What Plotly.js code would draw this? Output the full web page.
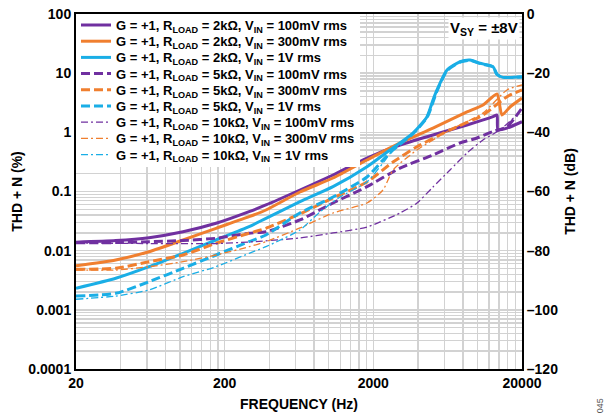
<!DOCTYPE html>
<html>
<head>
<meta charset="utf-8">
<script src="https://cdn.plot.ly/plotly-3.0.1.min.js"></script>
<style>html,body{margin:0;padding:0;background:#fff;}#chart{width:616px;height:419px;}</style>
</head>
<body>
<div id="chart"></div>
<script>
// Frequencies (Hz) and THD+N (%) values
const fP2k = [20, 37, 62, 105, 175, 292, 379, 642, 1071, 1813, 3023, 5038, 8532, 12760, 13574, 13786, 15850, 20000];
const vP2k = [0.0139, 0.0148, 0.0166, 0.0209, 0.029, 0.0456, 0.0592, 0.106, 0.19, 0.368, 0.611, 0.902, 1.33, 1.84, 1.96, 1.10, 1.18, 1.51];

const fO2k = [20, 37, 62, 105, 175, 292, 379, 642, 1071, 1813, 3023, 5038, 8532, 10930, 13574, 14670, 16606, 20000];
const vO2k = [0.00557, 0.00696, 0.00961, 0.01514, 0.02388, 0.0375, 0.0487, 0.0981, 0.169, 0.341, 0.661, 1.18, 2.21, 2.90, 4.45, 1.96, 2.68, 3.80];

const fB2k = [20, 37, 62, 105, 175, 292, 379, 642, 1071, 1813, 2588, 3698, 4592, 5038, 5362, 6262, 7657, 8936, 10434, 12760, 13574, 14900, 20000];
const vB2k = [0.00231, 0.00341, 0.00536, 0.00903, 0.01514, 0.0254, 0.0352, 0.0673, 0.1206, 0.262, 0.503, 0.975, 1.84, 3.52, 5.20, 11.3, 15.6, 16.7, 14.7, 12.9, 9.6, 8.5, 8.7];

const fP5k = [20, 37, 62, 105, 175, 292, 379, 642, 1071, 1813, 3023, 5038, 7657, 9960, 12760, 15850, 20000];
const vP5k = [0.0136, 0.0137, 0.0142, 0.0148, 0.0162, 0.0197, 0.0209, 0.033, 0.064, 0.1206, 0.249, 0.414, 0.661, 0.802, 1.03, 1.245, 2.58];

const fO5k = [20, 37, 62, 105, 175, 292, 379, 642, 1071, 1813, 2712, 3934, 6558, 10930, 15850, 20000];
const vO5k = [0.00484, 0.00504, 0.00651, 0.00845, 0.01333, 0.01968, 0.02388, 0.0417, 0.0777, 0.145, 0.315, 0.572, 1.10, 1.96, 4.0, 5.2];

const fB5k = [20, 37, 62, 105, 175, 292, 379, 642, 1071, 1813, 2322, 2712, 3698, 4592, 5362, 6262, 7657, 8936, 10434, 12760, 13574, 14900, 20000];
const vB5k = [0.00171, 0.0019, 0.00299, 0.00504, 0.00845, 0.01419, 0.0184, 0.0433, 0.0807, 0.176, 0.341, 0.503, 0.95, 1.78, 5.0, 11.0, 15.4, 16.5, 14.5, 12.8, 9.5, 8.5, 8.6];

const fP10k = [20, 62, 175, 292, 642, 1071, 1813, 3023, 3934, 5038, 6558, 8532, 10930, 14224, 20000];
const vP10k = [0.0135, 0.0132, 0.0132, 0.0140, 0.0164, 0.0199, 0.0251, 0.0433, 0.064, 0.119, 0.231, 0.448, 0.743, 1.10, 2.39];

const fO10k = [20, 37, 62, 105, 175, 292, 379, 642, 1071, 1813, 2322, 2712, 3934, 6558, 10930, 15850, 20000];
const vO10k = [0.00471, 0.00471, 0.00536, 0.00651, 0.00845, 0.01167, 0.01419, 0.0242, 0.0433, 0.064, 0.106, 0.231, 0.503, 1.10, 2.12, 5.2, 6.31];

const fB10k = [20, 37, 62, 105, 175, 292, 379, 642, 875, 1194, 1813, 2322, 2712, 3698, 4592, 5362, 6262, 7657, 8936, 10434, 12760, 13574, 14900, 20000];
const vB10k = [0.00151, 0.00171, 0.00217, 0.00363, 0.00536, 0.00903, 0.01167, 0.0224, 0.0451, 0.0807, 0.145, 0.303, 0.503, 0.96, 1.80, 5.1, 11.2, 15.5, 16.6, 14.6, 12.9, 9.5, 8.5, 8.7];

const seriesNames = [
  'G = +1, R<sub>LOAD</sub> = 2kΩ, V<sub>IN</sub> = 100mV rms',
  'G = +1, R<sub>LOAD</sub> = 2kΩ, V<sub>IN</sub> = 300mV rms',
  'G = +1, R<sub>LOAD</sub> = 2kΩ, V<sub>IN</sub> = 1V rms',
  'G = +1, R<sub>LOAD</sub> = 5kΩ, V<sub>IN</sub> = 100mV rms',
  'G = +1, R<sub>LOAD</sub> = 5kΩ, V<sub>IN</sub> = 300mV rms',
  'G = +1, R<sub>LOAD</sub> = 5kΩ, V<sub>IN</sub> = 1V rms',
  'G = +1, R<sub>LOAD</sub> = 10kΩ, V<sub>IN</sub> = 100mV rms',
  'G = +1, R<sub>LOAD</sub> = 10kΩ, V<sub>IN</sub> = 300mV rms',
  'G = +1, R<sub>LOAD</sub> = 10kΩ, V<sub>IN</sub> = 1V rms'
];

// Axis ticks
const xMajorTicks = [20, 200, 2000, 20000];
const xTickLabels = ['20', '200', '2000', '20000'];
const yMajorTicks = [0.0001, 0.001, 0.01, 0.1, 1, 10, 100];
const yTickLabels = ['0.0001', '0.001', '0.01', '0.1', '1', '10', '100'];
const dbTicks = [-120, -100, -80, -60, -40, -20, 0];
const dbTickLabels = ['–120', '–100', '–80', '–60', '–40', '–20', '0'];

const PURPLE = '#7030a0', ORANGE = '#f07f2f', BLUE = '#1aaee6';
const FONT = 'Arial, "Liberation Sans", sans-serif';

// grid positions: multiples within each "decade" starting at 20
const xGrid = [], xGridText = [];
xMajorTicks.forEach((m, i) => {
  if (i === xMajorTicks.length - 1) { xGrid.push(m); xGridText.push(xTickLabels[i]); return; }
  for (let k = 1; k <= 9; k++) { xGrid.push(m * k); xGridText.push(k === 1 ? xTickLabels[i] : ''); }
});
const yGrid = [], yGridText = [];
yMajorTicks.forEach((m, i) => {
  if (i === yMajorTicks.length - 1) { yGrid.push(m); yGridText.push(yTickLabels[i]); return; }
  for (let k = 1; k <= 9; k++) { yGrid.push(m * k); yGridText.push(k === 1 ? yTickLabels[i] : ''); }
});

function tr(f, v, name, color, dash, width) {
  return { x: f, y: v, name: name, type: 'scatter', mode: 'lines',
    line: { color: color, dash: dash, width: width, shape: 'spline', smoothing: 0.6 } };
}
const DASH = '9px,4px';
const DASHDOT = '7px,3px,2px,3px';
const data = [
  tr(fP2k, vP2k, seriesNames[0], PURPLE, 'solid', 3),
  tr(fO2k, vO2k, seriesNames[1], ORANGE, 'solid', 3),
  tr(fB2k, vB2k, seriesNames[2], BLUE, 'solid', 3),
  tr(fP5k, vP5k, seriesNames[3], PURPLE, DASH, 3),
  tr(fO5k, vO5k, seriesNames[4], ORANGE, DASH, 3),
  tr(fB5k, vB5k, seriesNames[5], BLUE, DASH, 3),
  tr(fP10k, vP10k, seriesNames[6], PURPLE, DASHDOT, 1.3),
  tr(fO10k, vO10k, seriesNames[7], ORANGE, DASHDOT, 1.3),
  tr(fB10k, vB10k, seriesNames[8], BLUE, DASHDOT, 1.3),
  { x: [], y: [], yaxis: 'y2', showlegend: false, type: 'scatter', mode: 'lines', hoverinfo: 'skip' }
];

const layout = {
  width: 616, height: 419,
  margin: { l: 76, r: 94, t: 14, b: 50 },
  paper_bgcolor: '#fff', plot_bgcolor: '#fff',
  font: { family: FONT, size: 13, color: '#000', weight: 700 },
  showlegend: true,
  legend: {
    x: 0, y: 1, xanchor: 'left', yanchor: 'top',
    bgcolor: '#fff', borderwidth: 0,
    font: { family: FONT, size: 13, color: '#000', weight: 700 },
    tracegroupgap: 0, itemwidth: 30
  },
  xaxis: {
    type: 'log', range: [Math.log10(20), Math.log10(20000)],
    tickmode: 'array', tickvals: xGrid, ticktext: xGridText,
    ticks: '', showgrid: true, gridcolor: '#d2d2d2', gridwidth: 1.4,
    showline: true, linecolor: '#000', linewidth: 2, mirror: true,
    tickfont: { family: FONT, size: 14, weight: 700 },
    title: { text: 'FREQUENCY (Hz)', font: { family: FONT, size: 14, weight: 700 }, standoff: 9 },
    zeroline: false
  },
  yaxis: {
    type: 'log', range: [-4, 2],
    tickmode: 'array', tickvals: yGrid, ticktext: yGridText,
    ticks: '', showgrid: true, gridcolor: '#d2d2d2', gridwidth: 1.4,
    showline: true, linecolor: '#000', linewidth: 2, mirror: true,
    tickfont: { family: FONT, size: 14, weight: 700 },
    title: { text: 'THD + N (%)', font: { family: FONT, size: 14, weight: 700 }, standoff: 2 },
    zeroline: false
  },
  yaxis2: {
    overlaying: 'y', side: 'right', range: [-120, 0],
    tickmode: 'array', tickvals: dbTicks, ticktext: dbTickLabels,
    ticks: '', showgrid: false, showline: true, linecolor: '#000', linewidth: 2,
    tickfont: { family: FONT, size: 14, weight: 700 },
    title: { text: 'THD + N (dB)', font: { family: FONT, size: 14, weight: 700 }, standoff: 8 },
    zeroline: false
  },
  annotations: [
    { xref: 'paper', yref: 'paper', x: 0.995, y: 0.992, xanchor: 'right', yanchor: 'top',
      text: 'V<sub>SY</sub> = ±8V', showarrow: false, bgcolor: '#fff',
      font: { family: FONT, size: 15, weight: 700, color: '#000' } },
    { xref: 'paper', yref: 'paper', x: 1.175, y: -0.105, xanchor: 'center', yanchor: 'middle',
      text: '045', textangle: -90, showarrow: false,
      font: { family: FONT, size: 9, weight: 400, color: '#555' } }
  ]
};

Plotly.newPlot('chart', data, layout, { staticPlot: true, displayModeBar: false }).then(gd => {
  // tighten legend row spacing to match the reference
  const items = gd.querySelectorAll('.legend .traces');
  const step = 16.2, y0 = 11;
  items.forEach((g, i) => {
    g.setAttribute('transform', 'translate(0,' + (y0 + i * step) + ')');
  });
  const h = y0 + (items.length - 1) * step + 12;
  gd.querySelectorAll('.legend rect.bg').forEach(r => r.setAttribute('height', h));
});
</script>
</body>
</html>
